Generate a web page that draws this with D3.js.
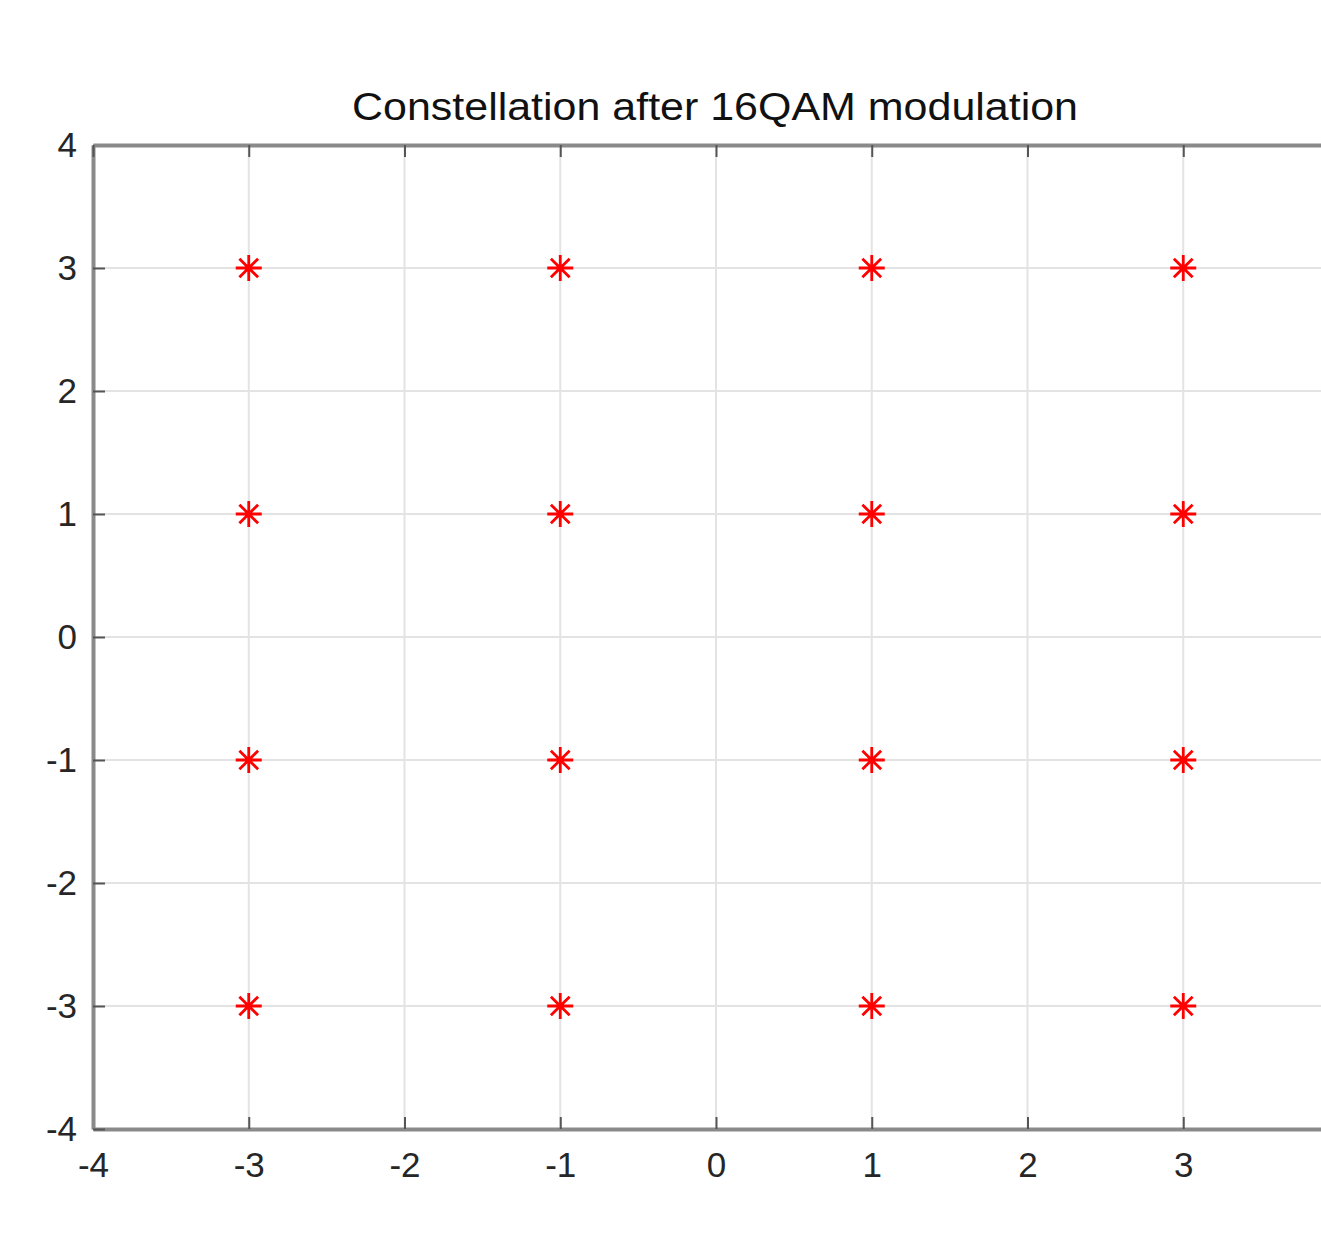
<!DOCTYPE html>
<html>
<head>
<meta charset="utf-8">
<script src="https://cdn.jsdelivr.net/npm/d3@7"></script>
<style>
  body { margin: 0; background: #fff; }
  svg { display: block; }
</style>
</head>
<body>
<div id="chart"></div>
<script>
const width = 1321;
const height = 1244;

// constellation points
const inPhase = [-3, -3, -3, -3, -1, -1, -1, -1, 1, 1, 1, 1, 3, 3, 3, 3];
const quadrature = [3, 1, -1, -3, 3, 1, -1, -3, 3, 1, -1, -3, 3, 1, -1, -3];
const xTicks = [-4, -3, -2, -1, 0, 1, 2, 3, 4];
const yTicks = [-4, -3, -2, -1, 0, 1, 2, 3, 4];
const title = 'Constellation after 16QAM modulation';

const mLeft = 93, mRight = 1339, mTop = 145, mBottom = 1129;

const svg = d3.select('#chart')
    .append('svg')
    .attr('width', width)
    .attr('height', height)
    .style('font-family', 'Liberation Sans, Arial, sans-serif');

const x = d3.scaleLinear().domain([-4, 4]).range([mLeft, mRight]);
const y = d3.scaleLinear().domain([-4, 4]).range([mBottom, mTop]);

// grid
svg.append('g')
    .selectAll('line')
    .data(xTicks.slice(1, -1))
    .enter()
    .append('line')
    .attr('x1', d => x(d)).attr('x2', d => x(d))
    .attr('y1', mTop).attr('y2', mBottom)
    .attr('stroke', '#e3e3e3')
    .attr('stroke-width', 2);

svg.append('g')
    .selectAll('line')
    .data(yTicks.slice(1, -1))
    .enter()
    .append('line')
    .attr('y1', d => y(d)).attr('y2', d => y(d))
    .attr('x1', mLeft).attr('x2', mRight)
    .attr('stroke', '#e3e3e3')
    .attr('stroke-width', 2);

const fmt = d => String(d).replace('−', '-');
// the last x label falls outside the cropped picture
const fmtX = d => (x(d) > width - 10 ? '' : fmt(d));

const xAxis = svg.append('g')
    .attr('transform', `translate(0,${mBottom})`)
    .call(d3.axisBottom(x).tickValues(xTicks).tickFormat(fmtX).tickSizeInner(-12).tickSizeOuter(0).tickPadding(23));

const yAxis = svg.append('g')
    .attr('transform', `translate(${mLeft},0)`)
    .call(d3.axisLeft(y).tickValues(yTicks).tickFormat(fmt).tickSizeInner(-12).tickSizeOuter(0).tickPadding(16));

const xTop = svg.append('g')
    .attr('transform', `translate(0,${mTop})`)
    .call(d3.axisTop(x).tickValues(xTicks).tickFormat('').tickSizeInner(-12).tickSizeOuter(0));

const yRight = svg.append('g')
    .attr('transform', `translate(${mRight},0)`)
    .call(d3.axisRight(y).tickValues(yTicks).tickFormat('').tickSizeInner(-12).tickSizeOuter(0));

[xAxis, yAxis, xTop, yRight].forEach(g => {
    g.select('.domain').attr('stroke', '#8a8a8a').attr('stroke-width', 4);
    g.selectAll('.tick line').attr('stroke', '#555').attr('stroke-width', 2);
    g.selectAll('.tick text')
        .attr('fill', '#262626')
        .style('font-size', '35px')
        .style('font-family', 'Liberation Sans, Arial, sans-serif');
});

// title
svg.append('text')
    .attr('x', (mLeft + mRight) / 2 - 1)
    .attr('y', 120)
    .attr('text-anchor', 'middle')
    .attr('fill', '#111')
    .attr('textLength', 726)
    .attr('lengthAdjust', 'spacingAndGlyphs')
    .style('font-size', '38px')
    .text(title);

// asterisk markers
const r = 13;
const star = `M${-r},0L${r},0M0,${-r}L0,${r}` +
    `M${-r * 0.72},${-r * 0.72}L${r * 0.72},${r * 0.72}` +
    `M${-r * 0.72},${r * 0.72}L${r * 0.72},${-r * 0.72}`;

svg.append('g')
    .selectAll('path')
    .data(inPhase.map((d, i) => [d, quadrature[i]]))
    .enter()
    .append('path')
    .attr('transform', d => `translate(${x(d[0])},${y(d[1])})`)
    .attr('d', star)
    .attr('fill', 'none')
    .attr('stroke', '#ff0000')
    .attr('stroke-width', 2.8);
</script>
</body>
</html>
